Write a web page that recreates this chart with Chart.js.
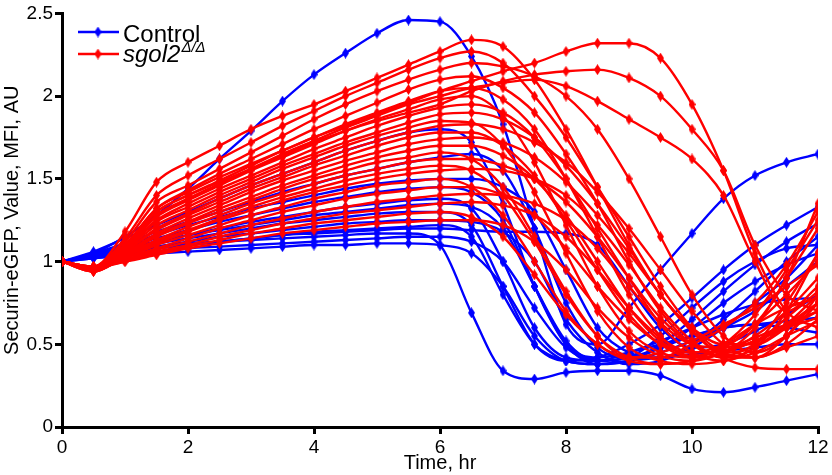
<!DOCTYPE html>
<html>
<head>
<meta charset="utf-8">
<script src="https://cdn.jsdelivr.net/npm/chart.js@4.4.1/dist/chart.umd.min.js"></script>
<style>
  html, body { margin: 0; padding: 0; background: #fff; }
  #wrap { width: 832px; height: 475px; }
</style>
</head>
<body>
<div id="wrap"><canvas id="chart" width="832" height="475"></canvas></div>
<script>
// time points (hr), one value per half hour
const timeHr = [0, 0.5, 1, 1.5, 2, 2.5, 3, 3.5, 4, 4.5, 5, 5.5, 6, 6.5, 7, 7.5, 8, 8.5, 9, 9.5, 10, 10.5, 11, 11.5, 12];

// Control cells, Securin-eGFP MFI (AU)
const controlCells = [
  [1.00,1.05,1.15,1.28,1.44,1.62,1.79,1.97,2.13,2.26,2.38,2.46,2.45,2.24,1.83,1.20,0.62,0.50,0.72,0.95,1.17,1.38,1.52,1.60,1.65],
  [1.00,1.04,1.07,1.09,1.11,1.12,1.13,1.14,1.15,1.16,1.17,1.17,1.10,0.69,0.34,0.29,0.33,0.34,0.34,0.31,0.23,0.21,0.24,0.28,0.32],
  [1.00,1.06,1.14,1.22,1.30,1.38,1.46,1.53,1.60,1.67,1.73,1.78,1.80,1.72,1.35,0.85,0.50,0.42,0.45,0.50,0.55,0.60,0.62,0.64,0.66],
  [1.00,1.05,1.11,1.18,1.24,1.30,1.36,1.42,1.47,1.52,1.56,1.60,1.63,1.65,1.55,1.20,0.75,0.48,0.42,0.48,0.60,0.75,0.88,0.98,1.05],
  [1.00,1.04,1.09,1.14,1.19,1.24,1.28,1.32,1.36,1.39,1.42,1.44,1.45,1.42,1.25,0.85,0.50,0.38,0.40,0.50,0.65,0.82,0.98,1.12,1.23],
  [1.00,1.04,1.08,1.12,1.16,1.20,1.24,1.27,1.30,1.33,1.35,1.37,1.38,1.32,1.00,0.60,0.42,0.40,0.45,0.52,0.60,0.68,0.74,0.77,0.78],
  [1.00,1.03,1.07,1.11,1.14,1.17,1.20,1.23,1.25,1.27,1.29,1.30,1.30,1.22,0.85,0.50,0.40,0.42,0.50,0.62,0.78,0.95,1.10,1.22,1.33],
  [1.00,1.03,1.06,1.09,1.12,1.15,1.17,1.19,1.21,1.23,1.24,1.25,1.25,1.24,1.18,1.00,0.65,0.45,0.38,0.40,0.48,0.60,0.75,0.90,1.10],
  [1.00,1.03,1.06,1.08,1.10,1.12,1.14,1.16,1.17,1.18,1.19,1.20,1.20,1.19,1.18,1.18,1.17,1.10,0.85,0.60,0.48,0.50,0.58,0.68,0.80],
  [1.00,1.03,1.05,1.08,1.10,1.12,1.14,1.16,1.18,1.19,1.20,1.21,1.22,1.15,0.80,0.50,0.40,0.38,0.40,0.45,0.52,0.60,0.70,0.85,1.00],
  [1.00,1.02,1.04,1.06,1.08,1.09,1.10,1.11,1.12,1.13,1.14,1.15,1.15,1.12,1.00,0.72,0.48,0.40,0.42,0.48,0.55,0.60,0.62,0.60,0.57],
  [1.00,1.02,1.04,1.05,1.06,1.07,1.08,1.09,1.10,1.10,1.11,1.11,1.10,1.05,0.85,0.55,0.40,0.38,0.40,0.42,0.44,0.46,0.48,0.50,0.50],
  [1.00,1.04,1.10,1.16,1.22,1.27,1.32,1.36,1.40,1.44,1.47,1.49,1.50,1.50,1.45,1.30,0.95,0.60,0.45,0.42,0.50,0.65,0.82,1.00,1.15],
  [1.00,1.04,1.08,1.12,1.16,1.19,1.22,1.25,1.28,1.30,1.32,1.34,1.35,1.33,1.20,0.85,0.52,0.40,0.42,0.55,0.72,0.88,1.00,1.08,1.10]
];

// sgol2 Δ/Δ cells, Securin-eGFP MFI (AU)
const sgol2Cells = [
  [1.00,0.97,1.18,1.48,1.60,1.70,1.80,1.88,1.95,2.03,2.11,2.19,2.27,2.34,2.30,2.10,1.80,1.45,1.10,0.80,0.60,0.50,0.50,0.60,0.75],
  [1.00,0.97,1.10,1.32,1.42,1.51,1.59,1.67,1.75,1.82,1.89,1.96,2.03,2.09,2.15,2.20,2.27,2.32,2.32,2.23,1.95,1.55,1.05,0.70,0.60],
  [1.00,0.97,1.09,1.30,1.40,1.48,1.56,1.64,1.72,1.79,1.85,1.90,1.95,2.03,2.09,2.13,2.15,2.16,2.11,2.00,1.80,1.55,1.10,0.80,0.70],
  [1.00,0.96,1.08,1.28,1.38,1.47,1.56,1.65,1.73,1.81,1.88,1.95,2.00,2.05,2.08,2.10,2.06,1.97,1.86,1.75,1.62,1.40,1.00,0.70,0.85],
  [1.00,0.97,1.14,1.40,1.52,1.62,1.72,1.82,1.91,2.00,2.08,2.16,2.23,2.27,2.20,2.00,1.75,1.45,1.15,0.85,0.60,0.45,0.42,0.50,0.65],
  [1.00,0.97,1.12,1.36,1.46,1.56,1.66,1.76,1.86,1.95,2.03,2.10,2.16,2.20,2.18,2.12,2.00,1.80,1.50,1.15,0.80,0.55,0.45,0.55,0.80],
  [1.00,0.96,1.10,1.32,1.43,1.53,1.62,1.71,1.80,1.88,1.96,2.04,2.10,2.12,2.05,1.90,1.65,1.35,1.00,0.70,0.50,0.42,0.48,0.70,1.05],
  [1.00,0.96,1.09,1.30,1.40,1.49,1.58,1.67,1.75,1.83,1.90,1.97,2.03,2.05,1.98,1.80,1.50,1.15,0.80,0.55,0.42,0.45,0.60,0.90,1.20],
  [1.00,0.96,1.08,1.27,1.37,1.46,1.55,1.63,1.71,1.79,1.86,1.92,1.98,2.00,1.88,1.60,1.22,0.85,0.58,0.45,0.42,0.50,0.68,0.95,1.25],
  [1.00,0.96,1.08,1.25,1.35,1.44,1.52,1.60,1.68,1.75,1.82,1.88,1.93,1.95,1.90,1.75,1.50,1.20,0.90,0.62,0.45,0.40,0.48,0.62,0.80],
  [1.00,0.95,1.07,1.24,1.33,1.42,1.50,1.58,1.65,1.72,1.78,1.84,1.89,1.90,1.86,1.75,1.58,1.35,1.08,0.80,0.58,0.45,0.50,0.75,1.05],
  [1.00,0.95,1.07,1.22,1.31,1.40,1.48,1.56,1.63,1.70,1.76,1.81,1.85,1.84,1.70,1.42,1.05,0.70,0.48,0.40,0.38,0.40,0.45,0.55,0.64],
  [1.00,0.95,1.06,1.20,1.29,1.38,1.46,1.53,1.60,1.67,1.73,1.78,1.82,1.83,1.80,1.72,1.60,1.42,1.20,0.95,0.70,0.50,0.42,0.55,0.75],
  [1.00,0.95,1.06,1.19,1.28,1.36,1.44,1.51,1.58,1.64,1.70,1.75,1.78,1.78,1.70,1.52,1.25,0.95,0.68,0.50,0.42,0.48,0.62,0.90,1.35],
  [1.00,0.95,1.05,1.17,1.26,1.34,1.42,1.49,1.55,1.61,1.66,1.71,1.74,1.75,1.72,1.63,1.48,1.28,1.05,0.80,0.58,0.42,0.36,0.35,0.35],
  [1.00,0.95,1.05,1.16,1.24,1.32,1.39,1.46,1.52,1.58,1.63,1.67,1.70,1.70,1.64,1.50,1.28,1.00,0.72,0.52,0.43,0.48,0.62,0.80,1.00],
  [1.00,0.95,1.04,1.15,1.23,1.30,1.37,1.44,1.50,1.55,1.60,1.63,1.66,1.62,1.45,1.15,0.82,0.55,0.42,0.42,0.50,0.60,0.75,0.98,1.30],
  [1.00,0.94,1.04,1.13,1.21,1.28,1.35,1.41,1.47,1.52,1.56,1.60,1.62,1.62,1.58,1.50,1.36,1.15,0.90,0.66,0.50,0.43,0.50,0.66,0.82],
  [1.00,0.94,1.03,1.12,1.19,1.26,1.33,1.39,1.44,1.49,1.53,1.56,1.58,1.55,1.40,1.12,0.80,0.55,0.42,0.38,0.40,0.45,0.52,0.60,0.70],
  [1.00,0.94,1.03,1.11,1.18,1.25,1.31,1.37,1.42,1.46,1.50,1.53,1.55,1.56,1.55,1.50,1.40,1.22,0.98,0.72,0.52,0.42,0.42,0.48,0.55],
  [1.00,0.95,1.02,1.10,1.16,1.22,1.28,1.33,1.38,1.42,1.46,1.48,1.50,1.45,1.28,1.00,0.70,0.50,0.42,0.45,0.52,0.62,0.72,0.85,0.98],
  [1.00,0.95,1.02,1.08,1.14,1.20,1.25,1.30,1.34,1.38,1.41,1.43,1.45,1.45,1.40,1.28,1.08,0.85,0.65,0.50,0.45,0.50,0.62,0.72,0.78],
  [1.00,0.96,1.01,1.07,1.12,1.17,1.22,1.26,1.30,1.33,1.36,1.38,1.40,1.41,1.40,1.35,1.25,1.08,0.85,0.63,0.50,0.48,0.54,0.62,0.70],
  [1.00,0.96,1.01,1.06,1.10,1.15,1.19,1.23,1.26,1.29,1.31,1.33,1.35,1.36,1.34,1.28,1.15,0.95,0.72,0.54,0.45,0.46,0.52,0.60,0.66],
  [1.00,0.96,1.00,1.05,1.09,1.13,1.17,1.20,1.23,1.25,1.27,1.29,1.30,1.27,1.15,0.92,0.68,0.50,0.40,0.38,0.40,0.45,0.52,0.62,0.75],
  [1.00,0.97,1.00,1.04,1.08,1.11,1.14,1.17,1.19,1.21,1.23,1.24,1.25,1.25,1.22,1.12,0.95,0.72,0.54,0.43,0.40,0.45,0.55,0.70,0.90]
];

const BLUE = '#0000ff';
const RED = '#ff0000';
const FONT = '"Liberation Sans", Arial, Helvetica, sans-serif';

// small upright diamond marker, like the original plot
function diamond(color) {
  const c = document.createElement('canvas');
  c.width = 7; c.height = 11;
  const g = c.getContext('2d');
  g.fillStyle = color;
  g.beginPath();
  g.moveTo(3.5, 0); g.lineTo(7, 5.5); g.lineTo(3.5, 11); g.lineTo(0, 5.5);
  g.closePath();
  g.fill();
  return c;
}
const blueMark = diamond(BLUE);
const redMark = diamond(RED);

function makeSet(values, color, mark, order) {
  return {
    data: values.map((v, i) => ({ x: timeHr[i], y: v })),
    borderColor: color,
    backgroundColor: color,
    borderWidth: 2.4,
    pointStyle: mark,
    pointRadius: 4,
    cubicInterpolationMode: 'monotone',
    order: order
  };
}

const datasets = [];
sgol2Cells.forEach(v => datasets.push(makeSet(v, RED, redMark, 0)));
controlCells.forEach(v => datasets.push(makeSet(v, BLUE, blueMark, 1)));

// legend drawn by hand so the superscript works
const legendPlugin = {
  id: 'handLegend',
  afterDraw(chart) {
    const ctx = chart.ctx;
    const rows = [
      { color: BLUE, mark: blueMark, y: 32 },
      { color: RED, mark: redMark, y: 54 }
    ];
    ctx.save();
    rows.forEach(r => {
      ctx.strokeStyle = r.color;
      ctx.lineWidth = 2.4;
      ctx.beginPath();
      ctx.moveTo(78, r.y); ctx.lineTo(119, r.y);
      ctx.stroke();
      ctx.drawImage(r.mark, 98 - 3.5, r.y - 5.5);
    });
    ctx.fillStyle = '#000';
    ctx.textBaseline = 'alphabetic';
    ctx.font = '24px ' + FONT;
    ctx.fillText('Control', 123, 42);
    ctx.font = 'italic 24px ' + FONT;
    ctx.fillText('sgol2', 123, 62);
    const w = ctx.measureText('sgol2').width;
    ctx.font = 'italic 15px ' + FONT;
    ctx.fillText('\u0394/\u0394', 123 + w + 1, 52);
    ctx.restore();
  }
};

new Chart(document.getElementById('chart'), {
  type: 'line',
  data: { datasets },
  options: {
    responsive: false,
    animation: false,
    devicePixelRatio: 1,
    layout: { padding: { top: 12, right: 14, left: 0, bottom: 0 } },
    plugins: { legend: { display: false }, tooltip: { enabled: false } },
    scales: {
      x: {
        type: 'linear',
        min: 0, max: 12,
        ticks: { stepSize: 2, color: '#000', font: { family: FONT, size: 19 }, padding: 2, maxRotation: 0 },
        grid: { drawOnChartArea: false, color: '#000', lineWidth: 3, tickLength: 7 },
        border: { color: '#000', width: 3 },
        title: { display: true, text: 'Time, hr', color: '#000', font: { family: FONT, size: 20 }, padding: { top: 0, bottom: 0 } },
        afterFit: s => { s.height = 48; }
      },
      y: {
        min: 0, max: 2.5,
        ticks: {
          stepSize: 0.5, color: '#000', font: { family: FONT, size: 19 }, padding: 2,
          callback: v => String(Math.round(v * 10) / 10)
        },
        grid: { drawOnChartArea: false, color: '#000', lineWidth: 3, tickLength: 7 },
        border: { color: '#000', width: 3 },
        title: { display: true, text: 'Securin-eGFP, Value, MFI, AU', color: '#000', font: { family: FONT, size: 20 }, padding: { top: 0, bottom: 0 } },
        afterFit: s => { s.width = 62; }
      }
    }
  },
  plugins: [legendPlugin]
});
</script>
</body>
</html>
